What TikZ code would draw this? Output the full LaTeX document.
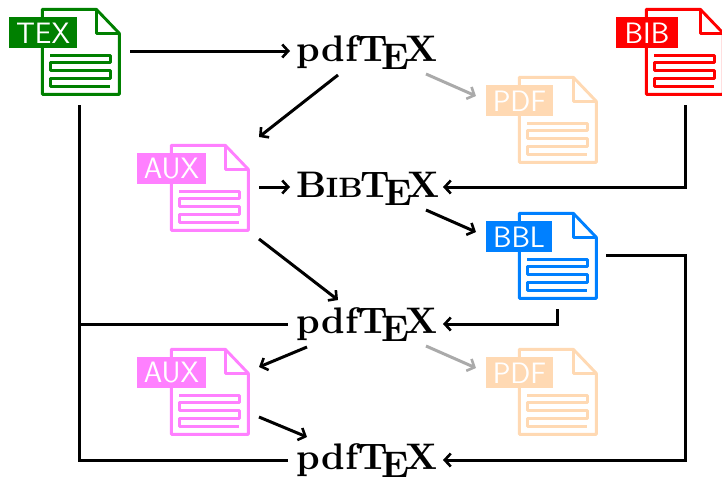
\documentclass[tikz,border=0pt]{standalone}
\usetikzlibrary{arrows.meta}
\definecolor{docgreen}{RGB}{0,128,0}
\definecolor{docred}{RGB}{255,0,0}
\definecolor{docblue}{RGB}{0,128,255}
\definecolor{docpink}{RGB}{255,128,255}
\definecolor{docpeach}{RGB}{255,217,179}
\definecolor{arrgray}{RGB}{170,170,170}
\newcommand{\bibtexlogo}{\textbf{B\kern-.03em{\fontsize{7.6}{8}\selectfont IB}\kern-.06em\TeX}}
\tikzset{
  x=1pt,y=-1pt,
  proc/.style={inner sep=0pt,anchor=base,scale=3.7,transform shape,font=\fontsize{10}{12}\selectfont},
  conn/.style={line width=3pt,-{Straight Barb[length=6pt,width=13pt,line width=2.6pt]}},
  connf/.style={line width=3pt,line join=miter},
  gray conn/.style={conn,draw=arrgray},
  lab/.style={inner sep=0pt,text=white,font=\sffamily\fontsize{29.5}{29.5}\selectfont,minimum height=31pt,anchor=west},
  iconbox/.style={inner sep=0pt,minimum width=77pt,minimum height=85pt},
  pics/docfile/.style n args={4}{code={
    \draw[#1,line width=2.9pt,line join=round]
      (0,0) -- (54,0) -- (77,24) -- (77,85) -- (0,85) -- cycle;
    \draw[#1,line width=2.9pt,line join=round] (54,0) -- (54,24) -- (77,24);
    \draw[#1,line width=2.9pt,line join=round]
      (8,46) -- (68,46) -- (68,53) -- (8,53) -- (8,61) -- (68,61) -- (68,69) -- (8,69) -- (8,77) -- (68,77);
    \node[lab,fill=#1,minimum width=#4 pt] (-label) at (#3,23.5) {\raisebox{-1pt}{#2}};
  }}
}
\begin{document}
\begin{tikzpicture}
\useasboundingbox (0,0) rectangle (722,477);
\node[iconbox] (tex) at (81,52) {};
\node[iconbox] (bib) at (685,52) {};
\node[iconbox] (pdfa) at (558,120) {};
\node[iconbox] (auxa) at (210,188) {};
\node[iconbox] (bbl) at (558,256) {};
\node[iconbox] (auxb) at (210,392) {};
\node[iconbox] (pdfb) at (558,392) {};
\pic (texf) at (tex.north west) {docfile={docgreen}{TEX}{-33.5}{68}};
\pic (bibf) at (bib.north west) {docfile={docred}{BIB}{-30.5}{62}};
\pic (pdfaf) at (pdfa.north west) {docfile={docpeach}{PDF}{-33.5}{67}};
\pic (auxaf) at (auxa.north west) {docfile={docpink}{AUX}{-34.5}{69}};
\pic (bblf) at (bbl.north west) {docfile={docblue}{BBL}{-33.5}{66}};
\pic (auxbf) at (auxb.north west) {docfile={docpink}{AUX}{-34.5}{69}};
\pic (pdfbf) at (pdfb.north west) {docfile={docpeach}{PDF}{-33.5}{67}};
\node[proc] (pa) at (367,61) {\textbf{pdf\TeX}};
\node[proc] (bt) at (368,197) {\bibtexlogo};
\node[proc] (pb) at (367,333) {\textbf{pdf\TeX}};
\node[proc] (pc) at (367,469) {\textbf{pdf\TeX}};
\draw[conn] ([shift={(49,-1)}]tex.center) -- ([shift={(-77,-10)}]pa.base);
\draw[conn] ([shift={(-29,14)}]pa.base) -- ([shift={(49,-51)}]auxa.center);
\draw[gray conn] ([shift={(59,13)}]pa.base) -- ([shift={(-82,-24)}]pdfa.center);
\draw[conn] ([shift={(0,53)}]bib.center) |- ([shift={(75,-10)}]bt.base);
\draw[conn] ([shift={(49,-1)}]auxa.center) -- ([shift={(-78,-10)}]bt.base);
\draw[conn] ([shift={(58,13)}]bt.base) -- ([shift={(-82,-24)}]bbl.center);
\draw[conn] ([shift={(49,51)}]auxa.center) -- ([shift={(-29,-33)}]pb.base);
\draw[conn] ([shift={(-1,53)}]bbl.center) |- ([shift={(76,-9)}]pb.base);
\draw[connf] ([shift={(-2,53)}]tex.center) |- ([shift={(-79,-9)}]pc.base);
\draw[connf] ([shift={(-2,272)}]tex.center) -- ([shift={(-79,-9)}]pb.base);
\draw[conn] ([shift={(-60,14)}]pb.base) -- ([shift={(49,-25)}]auxb.center);
\draw[gray conn] ([shift={(59,13)}]pb.base) -- ([shift={(-82,-24)}]pdfb.center);
\draw[conn] ([shift={(49,25)}]auxb.center) -- ([shift={(-60,-32)}]pc.base);
\draw[conn] ([shift={(48,-1)}]bbl.center) -- ++(79,0) |- ([shift={(76,-9)}]pc.base);
\end{tikzpicture}
\end{document}
